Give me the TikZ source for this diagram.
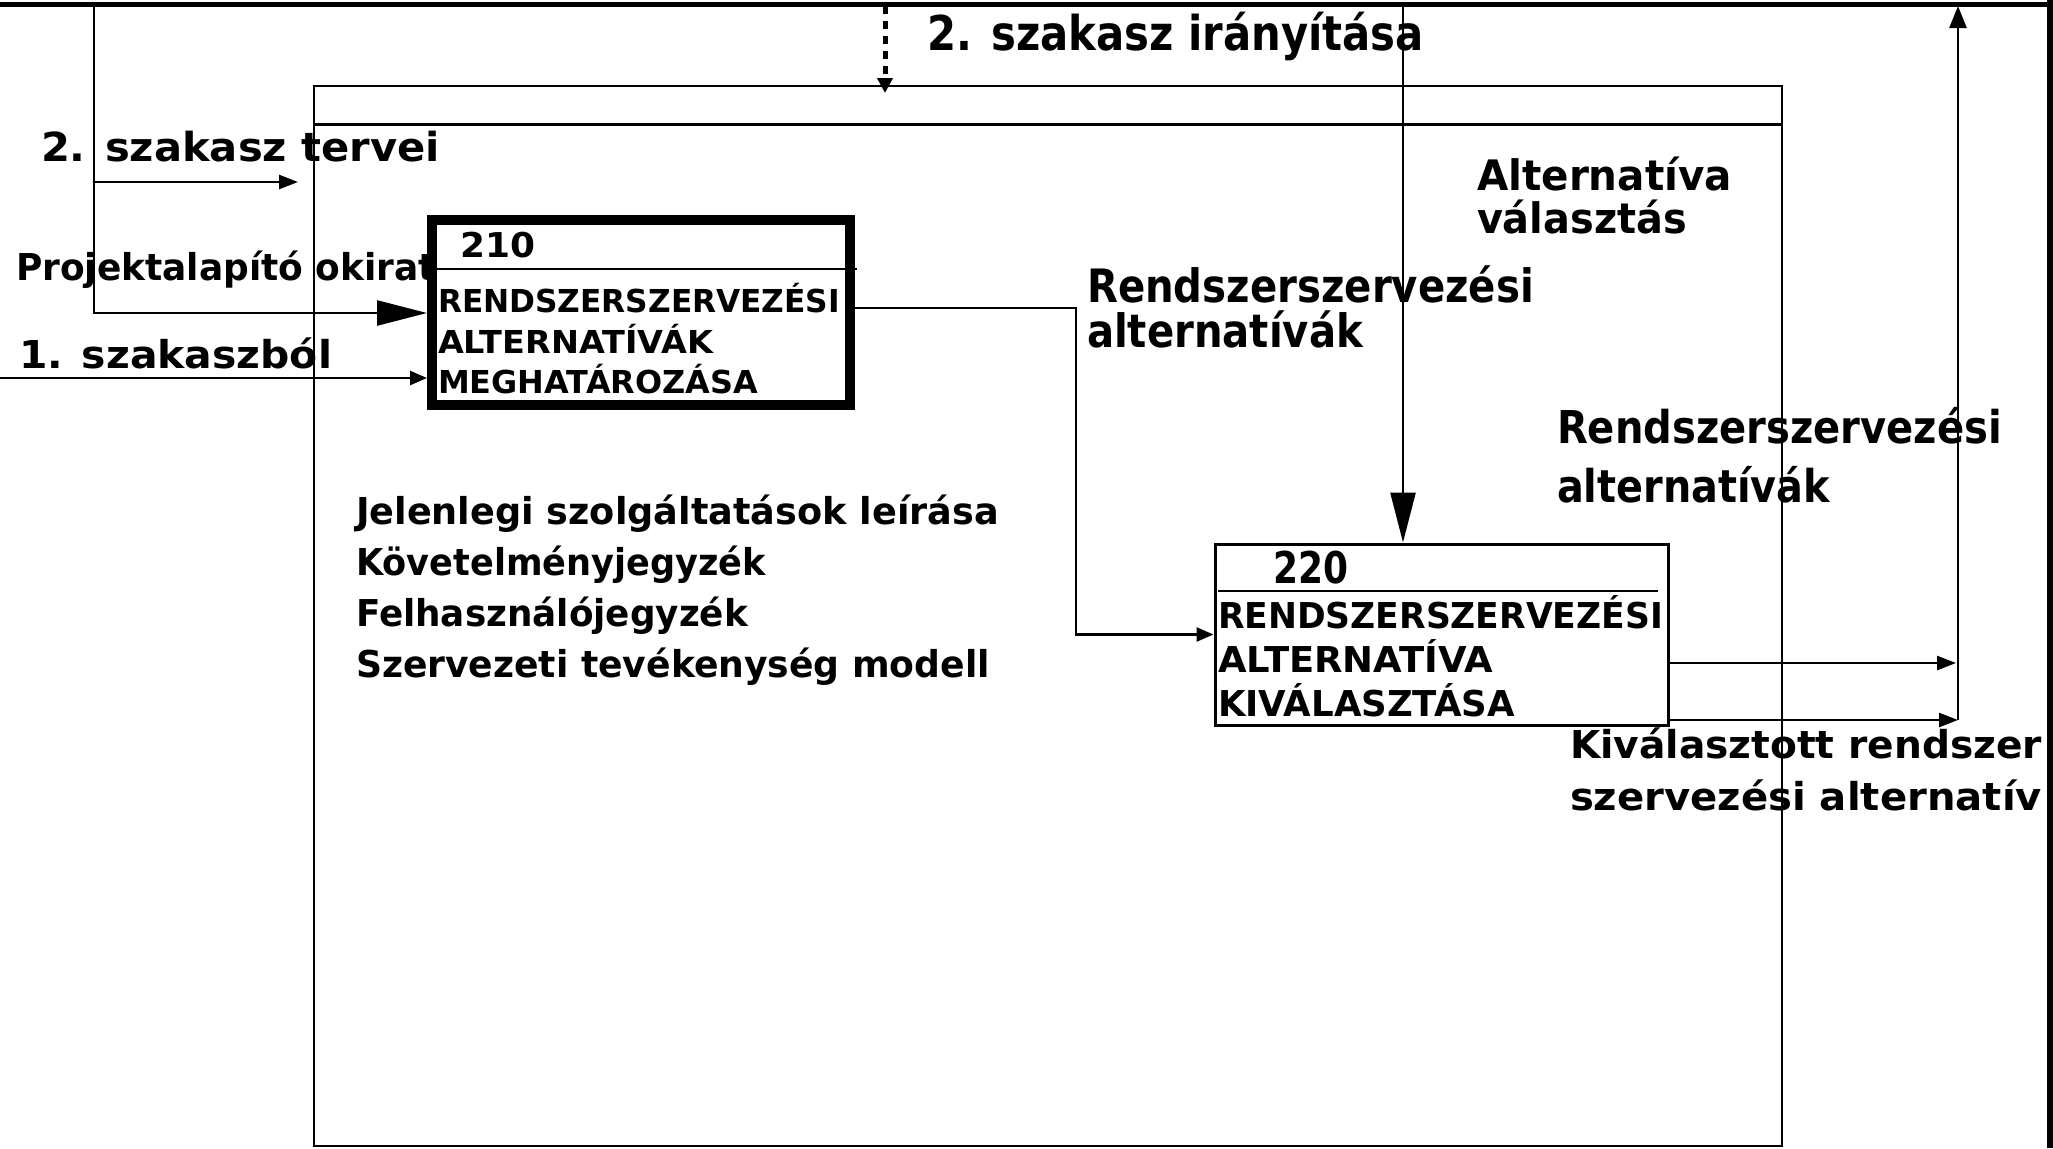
\documentclass[tikz,border=0pt]{standalone}
\usepackage{fontspec}
\setmainfont{DejaVu Sans}
\usetikzlibrary{arrows.meta}

\newcommand{\fsz}[1]{\fontsize{#1pt}{#1pt}\selectfont\bfseries}
\newcommand{\fitto}[2]{\resizebox{#1pt}{\height}{#2}}

\tikzset{
  ln/.style={line width=1.3pt},
  heavytip/.style={-{Triangle[length=25pt,width=12.5pt]}},
  sidetip/.style={-{Triangle[length=9.5pt,width=7pt]}},
  smalltip/.style={-{Triangle[length=8.5pt,width=7pt]}},
  uptip/.style={-{Triangle[length=11pt,width=8.5pt]}},
  lbl/.style={anchor=base west,inner sep=0pt,outer sep=0pt},
  actbox/.style={draw,rectangle,inner sep=0pt},
}

\begin{document}
\begin{tikzpicture}[x=0.5pt,y=0.5pt,yscale=-1]
\useasboundingbox (0,0) rectangle (2053,1148);
\clip (0,0) rectangle (2053,1148);

%Shape: Rectangle (outer frame)
\node[actbox,line width=1.3pt,minimum width=734pt,minimum height=530pt] (frame) at (1048,616) {};
\coordinate (hdr) at (0,124);
\draw[line width=1.5pt] (frame.west |- hdr) -- (frame.east |- hdr);

% Text Node
\node[lbl] (tIrany) at (927,50) {\fsz{24}\fitto{248.5}{2. szakasz irányítása}};
% Text Node
\node[lbl] (tTerv) at (41,161) {\fsz{20}\fitto{199.5}{2. szakasz tervei}};
% Text Node
\node[lbl] (tOkirat) at (16,280) {\fsz{18.5}\fitto{210}{Projektalapító okirat}};
% Text Node
\node[lbl] (tElozo) at (19,368) {\fsz{19.2}\fitto{156.5}{1. szakaszból}};
% Text Node
\node[lbl] (n210) at (460,257) {\fsz{17.1}\fitto{37.5}{210}};
% Text Node
\node[lbl] (t210a) at (438,312) {\fsz{15.8}\fitto{201}{RENDSZERSZERVEZÉSI}};
\node[lbl] (t210b) at (438,353) {\fsz{15.8}\fitto{137.5}{ALTERNATÍVÁK}};
\node[lbl] (t210c) at (438,393) {\fsz{15.8}\fitto{160}{MEGHATÁROZÁSA}};
% Text Node
\node[lbl] (tLista1) at (356,524) {\fsz{18.5}\fitto{321.5}{Jelenlegi szolgáltatások leírása}};
\node[lbl] (tLista2) at (356,575) {\fsz{18.5}\fitto{205}{Követelményjegyzék}};
\node[lbl] (tLista3) at (356,626) {\fsz{18.5}\fitto{196}{Felhasználójegyzék}};
\node[lbl] (tLista4) at (356,677) {\fsz{18.5}\fitto{317}{Szervezeti tevékenység modell}};
% Text Node
\node[lbl] (tValaszt1) at (1477,190) {\fsz{21}\fitto{127.5}{Alternatíva}};
\node[lbl] (tValaszt2) at (1477,233) {\fsz{21}\fitto{105}{választás}};
% Text Node
\node[lbl] (tAltA1) at (1087,302) {\fsz{23}\fitto{223.5}{Rendszerszervezési}};
\node[lbl] (tAltA2) at (1087,347) {\fsz{23}\fitto{138}{alternatívák}};
% Text Node
\node[lbl] (n220) at (1273,583) {\fsz{21.9}\fitto{37.5}{220}};
% Text Node
\node[lbl] (t220a) at (1218,628) {\fsz{17.8}\fitto{222.5}{RENDSZERSZERVEZÉSI}};
\node[lbl] (t220b) at (1218,672) {\fsz{17.8}\fitto{137.5}{ALTERNATÍVA}};
\node[lbl] (t220c) at (1218,716) {\fsz{17.8}\fitto{148.5}{KIVÁLASZTÁSA}};
% Text Node
\node[lbl] (tAltB1) at (1557,443) {\fsz{22.6}\fitto{222.5}{Rendszerszervezési}};
\node[lbl] (tAltB2) at (1557,502) {\fsz{22.6}\fitto{136.5}{alternatívák}};
% Text Node
\node[lbl] (tKival1) at (1570,758) {\fsz{19.2}\fitto{236}{Kiválasztott rendszer}};
\node[lbl] (tKival2) at (1570,810) {\fsz{19.2}\fitto{236}{szervezési alternatív}};

%Shape: Rectangle (210)
\node[actbox,line width=5pt,minimum width=209pt,minimum height=92.5pt] (a210) at (641,312.5) {};
\draw[ln] (437,269) -- (857,269);
%Shape: Rectangle (220)
\node[actbox,line width=1.5pt,minimum width=226.5pt,minimum height=90.5pt] (a220) at (1441.5,634.5) {};
\draw[ln] (1218,591) -- (1658,591);

%Straight Lines (page border)
\draw[line width=2.5pt] (0,4) -- (2053,4);
\draw[line width=3.5pt] (2050,0) -- (2050,1148);

% coordinates of the free ends
\coordinate (cPlan) at (94,4);
\coordinate (cKnee) at (94,313);
\coordinate (cTerv) at (298,182);
\coordinate (cPrev) at (0,378);
\coordinate (cCtrl) at (885,6);
\coordinate (cCtrlEnd) at (885,93);
\coordinate (cSel) at (1403,4);
\coordinate (cOut) at (1076,308);
\coordinate (cR1) at (1956,663);
\coordinate (cR2) at (1958,720);
\coordinate (cTop) at (1958,6);

%Straight Lines
\draw[ln,heavytip] (cPlan) -- (cKnee) -- (cKnee -| a210.west);
\draw[ln,sidetip] (cTerv -| cPlan) -- (cTerv);
\draw[ln,smalltip] (cPrev) -- (cPrev -| a210.west);
\draw[line width=2.5pt,dash pattern=on 4pt off 3.5pt,-{Triangle[length=7.5pt,width=7.5pt]}] (cCtrl) -- (cCtrlEnd);
\draw[ln,heavytip] (cSel) -- (cSel |- a220.north);
\draw[ln,smalltip] (a210.east |- cOut) -- (cOut) |- (a220.west);
\draw[ln,sidetip] (a220.east |- cR1) -- (cR1);
\draw[ln,sidetip] (a220.east |- cR2) -- (cR2);
\draw[ln,uptip] (cR2) -- (cTop);

\end{tikzpicture}
\end{document}
